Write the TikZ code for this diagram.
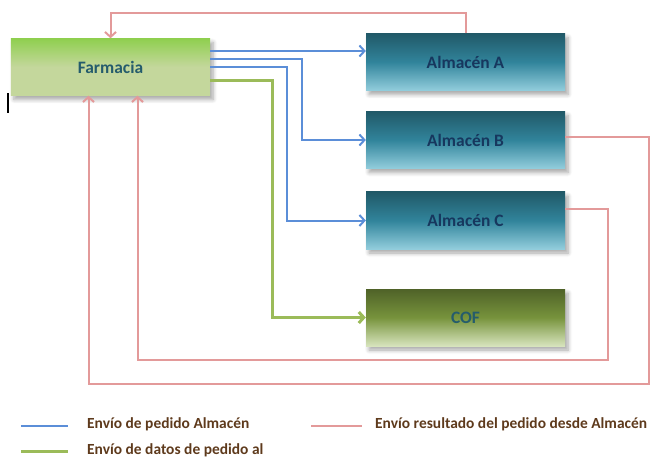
\documentclass[tikz,border=0pt]{standalone}
\usepackage{fontspec}
\setmainfont{Carlito}
\usetikzlibrary{positioning,shadows.blur,arrows.meta}

\definecolor{farmTop}{HTML}{8FCF4F}
\definecolor{farmBot}{HTML}{C4D79C}
\definecolor{almTop}{HTML}{215968}
\definecolor{almMid}{HTML}{31849B}
\definecolor{almBot}{HTML}{92CDDC}
\definecolor{cofTop}{HTML}{4F6228}
\definecolor{cofMid}{HTML}{77933C}
\definecolor{cofBot}{HTML}{D7E4BD}
\definecolor{azul}{HTML}{5B8ED8}
\definecolor{rojo}{HTML}{E39A9A}
\definecolor{verde}{HTML}{9BBB59}
\definecolor{txtTeal}{HTML}{255C6C}
\definecolor{txtNavy}{HTML}{17375E}
\definecolor{txtLey}{HTML}{5E3A1C}

\begin{document}
\begin{tikzpicture}[x=1bp, y=-1bp, node distance=80bp, on grid, >={Straight Barb[length=5bp,width=11bp]}]
\tikzstyle{every node}=[font=\bfseries]
\tikzstyle{caja}=[rectangle, minimum width=199bp, minimum height=57bp, inner sep=0pt,
  blur shadow={shadow xshift=3bp, shadow yshift=-4bp, shadow blur steps=6, shadow blur radius=4bp, shadow opacity=35},
  font=\fontsize{17.5}{19}\selectfont\bfseries]
\tikzstyle{almacen}=[caja, top color=almTop, bottom color=almBot, middle color=almMid, text=txtNavy]
\tikzstyle{pedido}=[draw=azul, line width=2bp]
\tikzstyle{datos}=[draw=verde, line width=3bp]
\tikzstyle{resultado}=[draw=rojo, line width=2bp]
\tikzstyle{leyenda}=[anchor=west, inner sep=0pt, text=txtLey, font=\fontsize{15.5}{17}\selectfont\bfseries]
\useasboundingbox (0,0) rectangle (658,459);

   \node[caja, top color=farmTop, bottom color=farmBot, middle color=farmBot, text=txtTeal](farm) at (110.5,67){Farmacia};
   \node[almacen](almA) at (465.5,62){Almacén A};
   \node[almacen](almB)[below=78bp of almA]{Almacén B};
   \node[almacen](almC)[below=80.5bp of almB]{Almacén C};
   \node[caja, top color=cofTop, bottom color=cofBot, middle color=cofMid, text=txtTeal](cof)[below=97bp of almC]{COF};
   \node[fill=black, minimum width=2bp, minimum height=20bp, inner sep=0pt](cursor) at (8,103){};

   \coordinate (bajoB) at ([yshift=-38bp]cof.south);
   \coordinate (bajoC) at ([yshift=-14bp]cof.south);

   % pedidos a los almacenes
   \draw[pedido, ->] ([yshift=16bp]farm.east) -- ([yshift=16bp]farm.east -| almA.west);
   \draw[pedido, ->] ([yshift=8bp]farm.east) -| ([xshift=-64bp]almB.west) -- (almB.west);
   \draw[pedido, ->] (farm.east) -| ([xshift=-79bp]almC.west) -- (almC.west);
   \draw[datos, ->] ([yshift=-14bp]farm.east) -| ([xshift=-93bp]cof.west) -- (cof.west);

   % resultados desde los almacenes
   \draw[resultado, ->] (almA.north) |- ([yshift=25bp]farm.north) -- (farm.north);
   \draw[resultado, ->] ([yshift=3bp]almB.east) -- ([xshift=84bp,yshift=3bp]almB.east) |- (bajoB) -| ([xshift=-22bp]farm.south);
   \draw[resultado, ->] ([yshift=12bp]almC.east) -- ([xshift=43bp,yshift=12bp]almC.east) |- (bajoC) -| ([xshift=27bp]farm.south);

   % leyenda
   \node[leyenda](leyPed) at (87,424){Envío de pedido Almacén};
   \node[leyenda](leyDat) at (87,450){Envío de datos de pedido al};
   \node[leyenda](leyRes) at (375,424){Envío resultado del pedido desde Almacén};
   \draw[pedido] ([xshift=-66bp,yshift=-2bp]leyPed.west) -- ([xshift=-19bp,yshift=-2bp]leyPed.west);
   \draw[datos] ([xshift=-66bp,yshift=-1bp]leyDat.west) -- ([xshift=-19bp,yshift=-1bp]leyDat.west);
   \draw[resultado] ([xshift=-64bp,yshift=-2bp]leyRes.west) -- ([xshift=-13bp,yshift=-2bp]leyRes.west);
\end{tikzpicture}
\end{document}
